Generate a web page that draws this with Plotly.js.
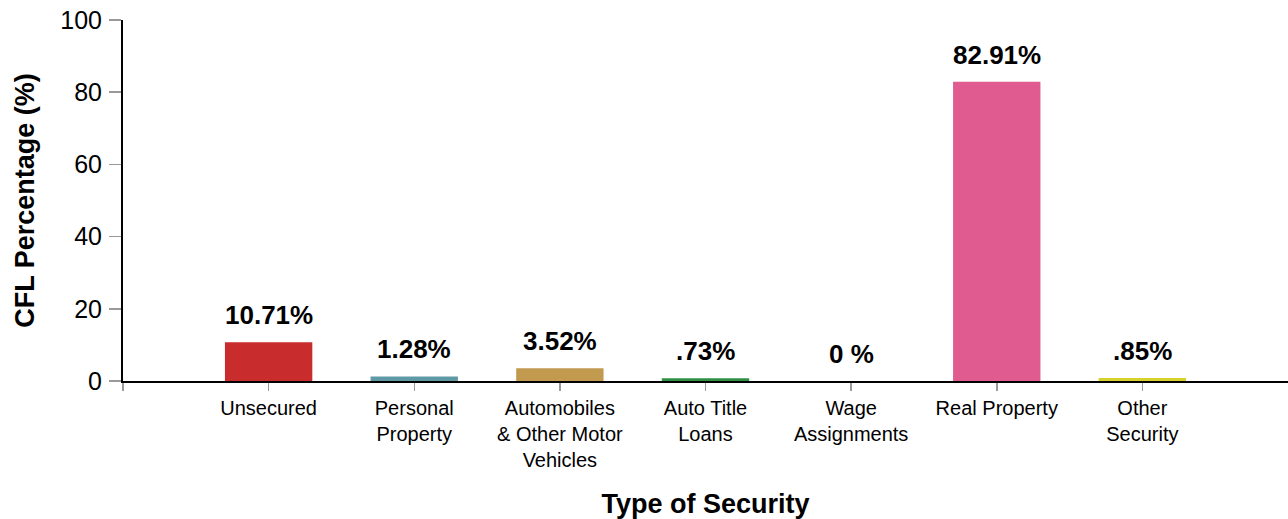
<!DOCTYPE html>
<html>
<head>
<meta charset="utf-8">
<script src="https://cdn.plot.ly/plotly-3.0.1.min.js"></script>
<style>html,body{margin:0;padding:0;background:#fff;}#chart{width:1288px;height:519px;}</style>
</head>
<body>
<div id="chart"></div>
<script>
var categories = ["Unsecured", "Personal<br>Property", "Automobiles<br>& Other Motor<br>Vehicles", "Auto Title<br>Loans", "Wage<br>Assignments", "Real Property", "Other<br>Security"];
var values = [10.71, 1.28, 3.52, 0.73, 0, 82.91, 0.85];
var valueLabels = ["10.71%", "1.28%", "3.52%", ".73%", "0 %", "82.91%", ".85%"];
var barColors = ["#c92c2c", "#5f99a6", "#c19a4f", "#2f8f45", "#cccccc", "#df5b90", "#d6d12c"];
var yTicks = [0, 20, 40, 60, 80, 100];

var idx = categories.map(function(c, i){ return i; });

var trace = {
  type: 'bar',
  x: idx,
  y: values,
  width: 0.6,
  marker: {color: barColors, line: {width: 0}},
  hoverinfo: 'none'
};

var annotations = idx.map(function(i){
  return {
    x: i, y: values[i], xref: 'x', yref: 'y',
    text: valueLabels[i], showarrow: false,
    yanchor: 'bottom', yshift: 10,
    font: {family: 'Liberation Sans, Arial, sans-serif', size: 26, color: '#000', weight: 'bold'}
  };
});

var layout = {
  width: 1288, height: 519,
  margin: {l: 123, r: 0, t: 20, b: 138},
  paper_bgcolor: '#fff', plot_bgcolor: '#fff',
  showlegend: false,
  font: {family: 'Liberation Sans, Arial, sans-serif', color: '#000'},
  xaxis: {
    range: [-1, 7],
    tickmode: 'array',
    tickvals: [-1].concat(idx),
    ticktext: [''].concat(categories),
    ticks: 'outside', ticklen: 8, tickcolor: '#999', tickwidth: 1.5,
    showline: true, linecolor: '#000', linewidth: 2,
    showgrid: false, zeroline: false,
    tickfont: {size: 20, color: '#000'},
    title: {text: 'Type of Security', font: {size: 27, weight: 'bold', color: '#000'}, standoff: 26}
  },
  yaxis: {
    range: [0, 100],
    tickmode: 'array', tickvals: yTicks,
    ticks: 'outside', ticklen: 12, tickcolor: '#999', tickwidth: 1.5,
    ticklabelstandoff: 2,
    showline: true, linecolor: '#000', linewidth: 2,
    showgrid: false, zeroline: false,
    tickfont: {size: 25, color: '#000'},
    title: {text: 'CFL Percentage (%)', font: {size: 27, weight: 'bold', color: '#000'}, standoff: 18}
  },
  annotations: annotations
};

Plotly.newPlot('chart', [trace], layout, {displayModeBar: false, staticPlot: true});
</script>
</body>
</html>
